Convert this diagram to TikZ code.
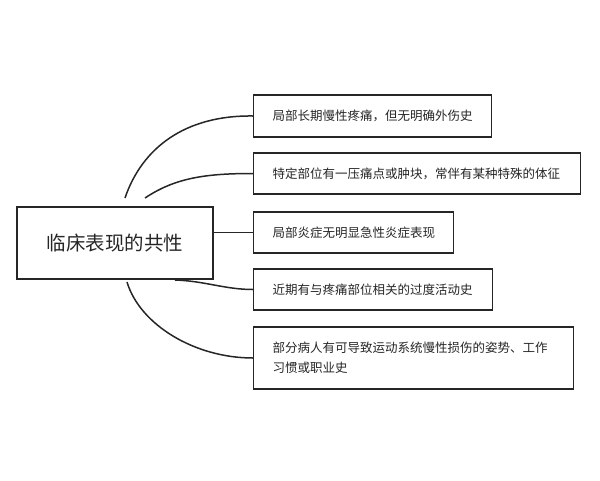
\documentclass[tikz,border=0pt]{standalone}
\usepackage{fontspec}
\setmainfont{Noto Sans CJK SC}
\usepackage{tikz}
\usetikzlibrary{calc,positioning}
\usepackage{xcolor}
\definecolor{inkgray}{HTML}{262626}

\tikzset{
  mainbox/.style={draw=inkgray, line width=1.8pt, minimum width=196pt, minimum height=72pt,
    font=\fontsize{19.5}{22}\selectfont, text=inkgray},
  itembox/.style={draw=inkgray, line width=1.3pt, anchor=west, align=left, inner xsep=19pt,
    inner ysep=0pt, font=\fontsize{12.5}{20}\selectfont, text=inkgray},
  branch/.style={draw=inkgray, line width=1.5pt}
}

\begin{document}
\begin{tikzpicture}[x=1pt,y=-1pt]
    \useasboundingbox (0,0) rectangle (600,480);

    % Draw the main box on the left
    \node[mainbox] (main) at (115,243) {临床表现的共性};

    % Draw the five boxes on the right
    \foreach \n/\w/\h/\yy/\t in {
        1/238/42/116/{局部长期慢性疼痛，但无明确外伤史},
        2/327/41/173.5/{特定部位有一压痛点或肿块，常伴有某种特殊的体征},
        3/200/41/232.5/{局部炎症无明显急性炎症表现},
        4/239/41/289.5/{近期有与疼痛部位相关的过度活动史},
        5/320/62/358/{部分病人有可导致运动系统慢性损伤的姿势、工作\\习惯或职业史}} {
        \pgfmathsetmacro{\tw}{\w-38}
        \node[itembox, text width=\tw pt, minimum height=\h pt] (b\n) at (253,\yy) {\t};
    }

    % Free ends of the branches near the main box
    \coordinate (s1) at (125,198);
    \coordinate (s2) at (145,198);
    \coordinate (s4) at (175,280);
    \coordinate (s5) at (127,282);

    % Draw the branches
    \draw[branch] (s1) .. controls (142,148) and (185,115) .. (b1.west);
    \draw[branch] (s2) .. controls (175,178) and (205,173.5) .. (b2.west);
    \draw[branch] (main.east |- b3.west) -- (b3.west);
    \draw[branch] (s4) .. controls (205,281) and (225,289.5) .. (b4.west);
    \draw[branch] (s5) .. controls (140,325) and (195,358) .. (b5.west);

\end{tikzpicture}
\end{document}
